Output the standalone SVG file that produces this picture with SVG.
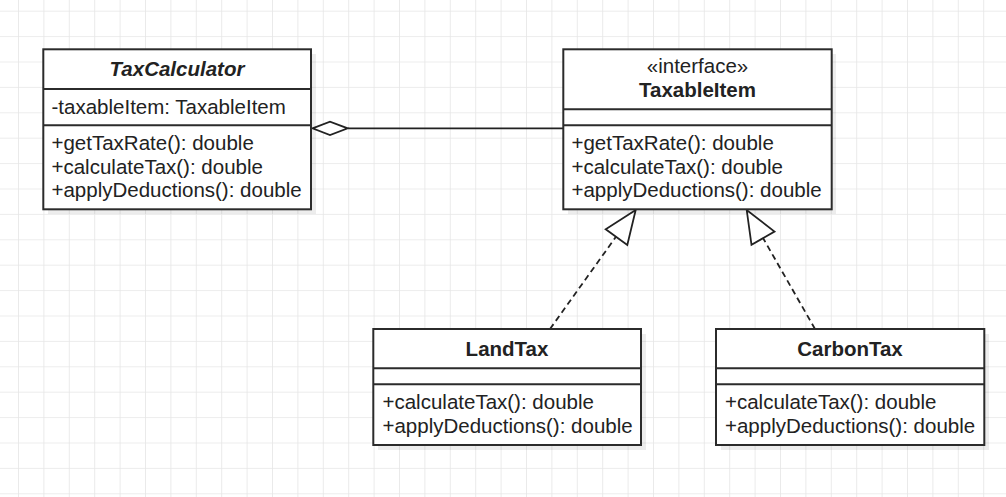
<svg xmlns="http://www.w3.org/2000/svg" width="1006" height="497" viewBox="0 0 1006 497">
<style>
.box{fill:#fff;stroke:#2b2b2b;stroke-width:2}
.shadow{fill:#000;opacity:0.07}
.div{stroke:#2b2b2b;stroke-width:2}
.t{font-family:"Liberation Sans",Arial,sans-serif;font-size:20.5px;fill:#222}
.b{font-weight:bold}
.i{font-style:italic}
.c{text-anchor:middle}
.conn{fill:none;stroke:#222;stroke-width:1.8}
.dash{stroke-dasharray:6 4}
.head{fill:#fff;stroke:#222;stroke-width:1.8;stroke-linejoin:miter}
</style>
<defs>
<pattern id="grid" patternUnits="userSpaceOnUse" x="18" y="10.7" width="25.4" height="25.4">
<path d="M0 0H25.4M0 0V25.4" fill="none" stroke="#e6e6e6" stroke-width="1.6"/>
</pattern>
</defs>
<rect width="1006" height="497" fill="#fff"/>
<rect width="1006" height="497" fill="url(#grid)"/>

<g id="connectors">
<line class="conn" x1="563" y1="128.3" x2="348" y2="128.3"/>
<polygon class="head" points="312.5,128.3 330,121.7 347.7,128.3 330,135"/>
<line class="conn dash" x1="550" y1="329" x2="619" y2="232.5"/>
<polygon class="head" points="635.7,210 605.7,229.3 627.3,245"/>
<line class="conn dash" x1="815" y1="329" x2="763" y2="238"/>
<polygon class="head" points="746.7,210 751.5,244.8 774.5,231.6"/>
</g>

<g id="TaxCalculator">
<rect class="shadow" x="48" y="54" width="268" height="160"/>
<rect class="box" x="43.3" y="49.3" width="267.7" height="160"/>
<line class="div" x1="43.3" y1="89" x2="311" y2="89"/>
<line class="div" x1="43.3" y1="125.3" x2="311" y2="125.3"/>
<text class="t b i c" x="177" y="76">TaxCalculator</text>
<text class="t" x="51.5" y="114">-taxableItem: TaxableItem</text>
<text class="t" x="51.5" y="150">+getTaxRate(): double</text>
<text class="t" x="51.5" y="173.5">+calculateTax(): double</text>
<text class="t" x="51.5" y="197">+applyDeductions(): double</text>
</g>

<g id="TaxableItem">
<rect class="shadow" x="568" y="54" width="268" height="160"/>
<rect class="box" x="563.3" y="49.3" width="268.4" height="160"/>
<line class="div" x1="563.3" y1="109.3" x2="831.7" y2="109.3"/>
<line class="div" x1="563.3" y1="125.3" x2="831.7" y2="125.3"/>
<text class="t c" x="697.5" y="73.3">«interface»</text>
<text class="t b c" x="697.5" y="97.3">TaxableItem</text>
<text class="t" x="571.5" y="150">+getTaxRate(): double</text>
<text class="t" x="571.5" y="173.5">+calculateTax(): double</text>
<text class="t" x="571.5" y="197">+applyDeductions(): double</text>
</g>

<g id="LandTax">
<rect class="shadow" x="378" y="334" width="268" height="116"/>
<rect class="box" x="373.3" y="329" width="267.7" height="116"/>
<line class="div" x1="373.3" y1="368.3" x2="641" y2="368.3"/>
<line class="div" x1="373.3" y1="384.3" x2="641" y2="384.3"/>
<text class="t b c" x="507" y="355.5">LandTax</text>
<text class="t" x="382.5" y="408.5">+calculateTax(): double</text>
<text class="t" x="382.5" y="432.5">+applyDeductions(): double</text>
</g>

<g id="CarbonTax">
<rect class="shadow" x="721" y="334" width="268" height="116"/>
<rect class="box" x="716" y="329" width="268.3" height="116"/>
<line class="div" x1="716" y1="368.3" x2="984.3" y2="368.3"/>
<line class="div" x1="716" y1="384.3" x2="984.3" y2="384.3"/>
<text class="t b c" x="850" y="355.5">CarbonTax</text>
<text class="t" x="725" y="408.5">+calculateTax(): double</text>
<text class="t" x="725" y="432.5">+applyDeductions(): double</text>
</g>
</svg>
